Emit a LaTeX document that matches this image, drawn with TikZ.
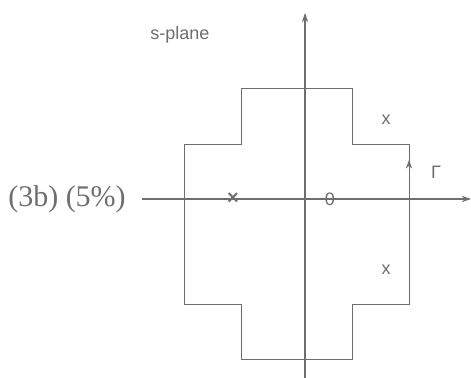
\documentclass[tikz,border=0pt]{standalone}
\usepackage{fontspec}
\setmainfont{Liberation Serif}
\setsansfont{Liberation Sans}
\usepackage{xcolor}
\definecolor{inkgrey}{HTML}{6E6E6E}
\usetikzlibrary{arrows.meta}
\tikzset{
  axis/.style   ={draw=inkgrey, line width=0.6pt, -{Stealth[length=1.6mm,width=1.1mm]}},
  contour/.style={draw=inkgrey, line width=0.5pt},
  tip/.style    ={draw=inkgrey, line width=0.5pt, -{Stealth[length=1.5mm,width=1.1mm]}},
  lbl/.style    ={font=\sffamily\small, text=inkgrey, inner sep=1pt},
  pole/.style   ={font=\sffamily\small, text=inkgrey, inner sep=0pt},
  tag/.style    ={font=\fontsize{15}{17}\selectfont, text=inkgrey, inner sep=1pt},
}

\begin{document}
\begin{tikzpicture}[x=0.5pt,y=-0.5pt]
  \useasboundingbox (0,0) rectangle (471,378);
  % axes
  \coordinate (xl) at (142,199);
  \coordinate (xr) at (471,199);
  \coordinate (yb) at (305,378);
  \coordinate (yt) at (305,13);
  \draw[axis] (xl) -- (xr);
  \draw[axis] (yb) -- (yt);
  % contour Gamma
  \draw[contour] (241,89) -- (352,89) -- (352,145) -- (409,145) -- (409,305)
    -- (352,305) -- (352,360) -- (241,360) -- (241,305) -- (184,305)
    -- (184,145) -- (241,145) -- cycle;
  \coordinate (ta) at (409,172);
  \coordinate (tb) at (409,160);
  \draw[tip] (ta) -- (tb);
  % labels
  \node[lbl] (plane) at (180,35) {s-plane};
  \node[lbl] (gam) at (436,172) {Γ};
  \node[lbl] (zero) at (330,199) {0};
  \node[tag] (fig) at (67,199) {(3b) (5\%)};
  % poles
  \node[pole] (p1) at (386,120) {x};
  \node[pole] (p2) at (386,270) {x};
  \node[pole, font=\sffamily\bfseries] (p0) at (233,199) {×};
\end{tikzpicture}
\end{document}
